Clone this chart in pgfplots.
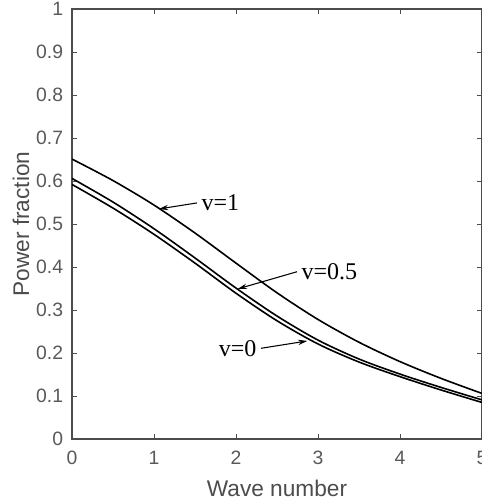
\documentclass[border=0pt]{standalone}
\usepackage{fontspec}
\setmainfont{Liberation Sans}
\newfontfamily\timesfont{Liberation Serif}
\usepackage{pgfplots}
\pgfplotsset{compat=1.18}
\usetikzlibrary{arrows.meta}

\begin{document}
\begin{tikzpicture}
\begin{axis}[
 scale only axis,
 width=307.5pt, height=322.5pt,
 xmin=0, xmax=5, ymin=0, ymax=1,
 xtick={0,1,2,3,4,5},
 ytick={0,0.1,0.2,0.3,0.4,0.5,0.6,0.7,0.8,0.9,1},
 tick align=inside,
 major tick length=3.75pt,
 tick style={black!70, line width=0.6pt},
 axis line style={black!70, line width=0.8pt},
 /pgf/number format/assume math mode=true,
 tick label style={font=\fontsize{14.5}{16}\selectfont, text=black!65},
 yticklabel style={inner sep=0pt, xshift=-6.5pt},
 xticklabel style={inner sep=0pt, yshift=-9pt},
 xlabel={Wave number},
 ylabel={Power fraction},
 label style={font=\fontsize{17}{19}\selectfont, text=black!70},
 xlabel style={at={(axis description cs:0.5,-0.114)}, anchor=center},
 ylabel style={at={(axis description cs:-0.1244,0.5)}, anchor=center},
]
% v=1
\addplot[black, line width=1.2pt, smooth] coordinates {(0,0.651) (0.5,0.601) (1,0.544) (1.5,0.479) (2,0.409) (2.5,0.340) (3,0.278) (3.5,0.225) (4,0.180) (4.5,0.141) (5,0.106)};
% v=0.5
\addplot[black, line width=1.2pt, smooth] coordinates {(0,0.606) (0.5,0.551) (1,0.489) (1.5,0.421) (2,0.351) (2.5,0.286) (3,0.230) (3.5,0.186) (4,0.151) (4.5,0.120) (5,0.091)};
% v=0
\addplot[black, line width=1.2pt, smooth] coordinates {(0,0.592) (0.5,0.537) (1,0.476) (1.5,0.409) (2,0.339) (2.5,0.275) (3,0.221) (3.5,0.179) (4,0.145) (4.5,0.114) (5,0.085)};

\node[font=\timesfont\fontsize{18}{20}\selectfont] (a) at (axis cs:1.81,0.549) {v=1};
\draw[-{Stealth[length=7pt,width=4pt]}, line width=0.8pt] (a.west) -- (axis cs:1.06,0.535);
\node[font=\timesfont\fontsize{18}{20}\selectfont] (b) at (axis cs:3.14,0.389) {v=0.5};
\draw[-{Stealth[length=7pt,width=4pt]}, line width=0.8pt] (b.west) -- (axis cs:2.02,0.349);
\node[font=\timesfont\fontsize{18}{20}\selectfont] (c) at (axis cs:2.02,0.211) {v=0};
\draw[-{Stealth[length=7pt,width=4pt]}, line width=0.8pt] (c.east) -- (axis cs:2.87,0.228);
\end{axis}
\pgfresetboundingbox
\useasboundingbox (-54pt,-46.5pt) rectangle (307.5pt,329.25pt);
\end{tikzpicture}
\end{document}
